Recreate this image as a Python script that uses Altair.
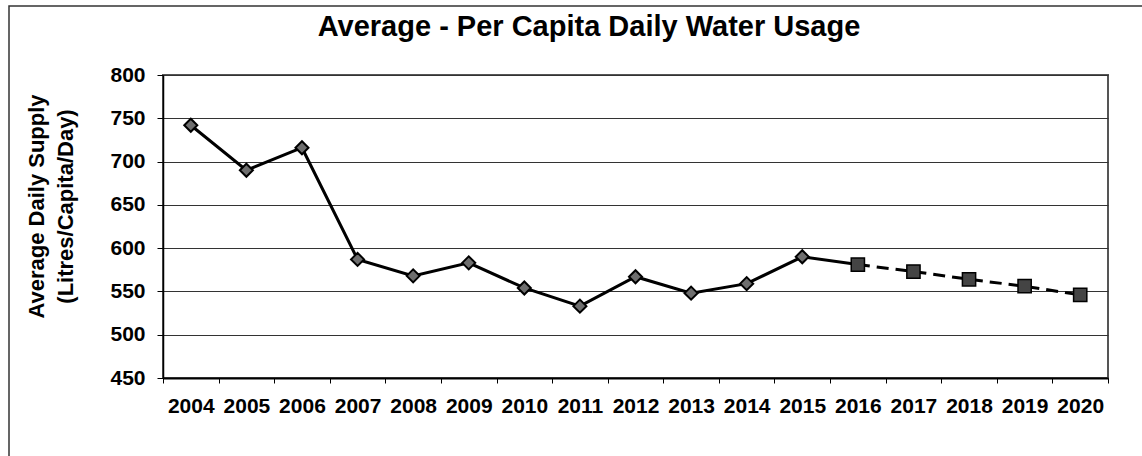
import altair as alt
import pandas as pd

# Per-capita daily supply, litres/capita/day
years = list(range(2004, 2021))
usage = [742, 690, 716, 587, 568, 583, 554, 533, 567, 548, 559, 590, 581, 573, 564, 556, 546]
last_actual = 2015          # later years are projections
y_ticks = [450, 500, 550, 600, 650, 700, 750, 800]
chart_title = "Average - Per Capita Daily Water Usage"
y_title = ["Average Daily Supply", "(Litres/Capita/Day)"]

df = pd.DataFrame({"year": years, "usage": usage})

FONT = "Liberation Sans"
W, H = 945, 303
band = W / len(years)
FRAME_TOP = -69   # outer figure frame, relative to the plot's top edge

# category edges carry the ticks; labels sit in the middle of each category
edges = [y - 0.5 for y in years] + [years[-1] + 0.5]

x_enc = alt.X(
    "year:Q",
    title=None,
    scale=alt.Scale(domain=[years[0] - 0.5, years[-1] + 0.5], nice=False, zero=False),
    axis=alt.Axis(
        values=edges,
        labelExpr=f"datum.value > {years[-1]} ? '' : format(datum.value + 0.5, 'd')",
        labelOffset=band / 2,
        labelFlush=False,
        labelOverlap=False,
        labelBound=False,
        grid=False,
        domainColor="black",
        domainWidth=2,
        tickColor="black",
        tickWidth=1,
        tickSize=5,
        labelPadding=12,
        labelFont=FONT,
        labelFontSize=21,
        labelFontWeight="bold",
        labelColor="black",
    ),
)

y_enc = alt.Y(
    "usage:Q",
    scale=alt.Scale(domain=[450, 800], nice=False, zero=False),
    axis=alt.Axis(
        values=y_ticks,
        title=y_title,
        grid=True,
        gridColor="#333333",
        gridWidth=1.2,
        domainColor="black",
        domainWidth=1.5,
        tickColor="black",
        tickSize=6,
        labelPadding=12,
        labelFont=FONT,
        labelFontSize=21,
        labelFontWeight="bold",
        labelColor="black",
        titleFont=FONT,
        titleFontSize=22,
        titleFontWeight="bold",
        titleColor="black",
        titleLineHeight=29,
        titleX=-115,
        titleY=131,
    ),
)

base = alt.Chart(df)

# outer frame around the whole figure
frame = alt.Chart(pd.DataFrame({"k": [0]})).mark_rect(
    filled=False, stroke="#333333", strokeWidth=1.5
).encode(
    x=alt.value(-154), x2=alt.value(W + 60), y=alt.value(FRAME_TOP), y2=alt.value(H + 100)
)

actual_line = base.transform_filter(f"datum.year <= {last_actual + 1}").mark_line(
    color="black", strokeWidth=3
).encode(x=x_enc, y=y_enc)

projected_line = base.transform_filter(f"datum.year >= {last_actual + 1}").mark_line(
    color="black", strokeWidth=3, strokeDash=[12, 7]
).encode(x=x_enc, y=y_enc)

actual_pts = base.transform_filter(f"datum.year <= {last_actual}").mark_point(
    shape="diamond", filled=True, size=170, fill="#6e6e6e", stroke="black",
    strokeWidth=2, opacity=1,
).encode(x=x_enc, y=y_enc)

projected_pts = base.transform_filter(f"datum.year > {last_actual}").mark_point(
    shape="square", filled=True, size=175, fill="#444444", stroke="black",
    strokeWidth=1.5, opacity=1,
).encode(x=x_enc, y=y_enc)

chart = alt.layer(
    frame, actual_line, projected_line, actual_pts, projected_pts
).properties(
    width=W,
    height=H,
    title=alt.TitleParams(
        text=chart_title,
        font=FONT,
        fontSize=29,
        fontWeight="bold",
        color="black",
        anchor="middle",
        dx=-46.5,
        offset=32,
        dy=-FRAME_TOP,   # the frame widens the view bounds; bring the title back down
    ),
    autosize=alt.AutoSizeParams(type="none"),
    padding={"left": 163, "top": 75, "right": 34, "bottom": 78},
    background="white",
).configure_view(
    stroke="#555555", strokeWidth=2
)

chart.save("out.html", embed_options={"renderer": "svg", "actions": False})
